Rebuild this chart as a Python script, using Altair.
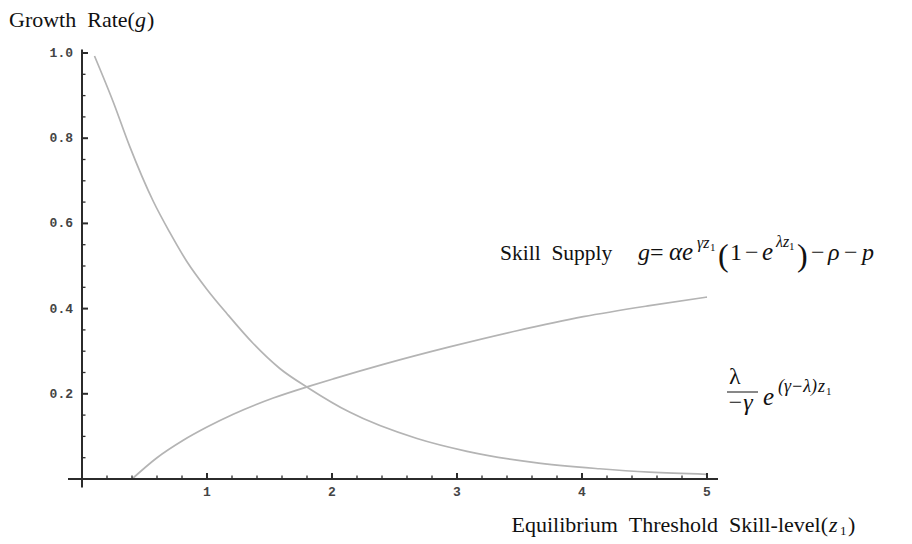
import altair as alt
import pandas as pd

# ---- data ----
supply_x = [0.40, 0.60, 0.81, 1.00, 1.21, 1.53, 1.82, 2.01, 2.41, 2.94, 3.48, 4.01, 4.54, 5.00]
supply_y = [0.000, 0.050, 0.091, 0.122, 0.152, 0.190, 0.218, 0.235, 0.269, 0.310, 0.348, 0.381, 0.407, 0.427]

demand_x = [0.10, 0.25, 0.38, 0.57, 0.70, 0.84, 1.00, 1.16, 1.37, 1.58, 1.82, 2.14, 2.68, 3.08, 3.61, 4.14, 4.54, 5.00]
demand_y = [0.993, 0.885, 0.782, 0.652, 0.580, 0.510, 0.445, 0.388, 0.318, 0.260, 0.212, 0.157, 0.095, 0.065, 0.039, 0.024, 0.016, 0.011]

x_major = [1, 2, 3, 4, 5]
x_labels = ["1", "2", "3", "4", "5"]
x_minor = [0.2, 0.4, 0.6, 0.8, 1.2, 1.4, 1.6, 1.8, 2.2, 2.4, 2.6, 2.8,
           3.2, 3.4, 3.6, 3.8, 4.2, 4.4, 4.6, 4.8]
y_major = [0.2, 0.4, 0.6, 0.8, 1.0]
y_labels = ["0.2", "0.4", "0.6", "0.8", "1.0"]
y_minor = [0.05, 0.10, 0.15, 0.25, 0.30, 0.35, 0.45, 0.50, 0.55,
           0.65, 0.70, 0.75, 0.85, 0.90, 0.95]

# ---- geometry ----
W, H = 890, 530
M = 8  # page margin
xs = alt.Scale(domain=[-0.592, (W - 74) / 125], nice=False, zero=False)
ys = alt.Scale(domain=[-(H - 471) / 426, 1 + 45 / 426], nice=False, zero=False)

AX = "#2b2b2b"
CURVE = "#b4b4b4"
SERIF = "Liberation Serif"

one = pd.DataFrame({"k": [0]})


def X(f):
    return alt.X(f, scale=xs, axis=None)


def Y(f):
    return alt.Y(f, scale=ys, axis=None)


def txt(s, x, y, size=22, style="normal", align="left", color="#111"):
    return alt.Chart(one).mark_text(
        text=s, fontSize=size, fontStyle=style, align=align,
        baseline="alphabetic", font=SERIF, color=color
    ).encode(x=alt.value(x - M), y=alt.value(y - M))


curves = pd.concat([
    pd.DataFrame({"x": supply_x, "y": supply_y, "s": "supply"}),
    pd.DataFrame({"x": demand_x, "y": demand_y, "s": "demand"}),
])

lines = alt.Chart(curves).mark_line(
    color=CURVE, strokeWidth=1.7, interpolate="monotone"
).encode(x=X("x:Q"), y=Y("y:Q"), detail="s:N")

# axes lines
xaxis = alt.Chart(pd.DataFrame({"x": [-0.112], "x2": [5.088], "y": [0.0]})).mark_rule(
    color=AX, strokeWidth=2).encode(x=X("x:Q"), x2="x2:Q", y=Y("y:Q"))
yaxis = alt.Chart(pd.DataFrame({"x": [0.0], "y": [-0.02], "y2": [1.008]})).mark_rule(
    color=AX, strokeWidth=2).encode(x=X("x:Q"), y=Y("y:Q"), y2="y2:Q")

# ticks
xt_major = alt.Chart(pd.DataFrame({"x": x_major, "y": 0.0, "y2": 6 / 426})).mark_rule(
    color=AX, strokeWidth=2).encode(x=X("x:Q"), y=Y("y:Q"), y2="y2:Q")
xt_minor = alt.Chart(pd.DataFrame({"x": x_minor, "y": 0.0, "y2": 3.5 / 426})).mark_rule(
    color=AX, strokeWidth=1.3).encode(x=X("x:Q"), y=Y("y:Q"), y2="y2:Q")
yt_major = alt.Chart(pd.DataFrame({"y": y_major, "x": 0.0, "x2": 6 / 125})).mark_rule(
    color=AX, strokeWidth=2).encode(x=X("x:Q"), x2="x2:Q", y=Y("y:Q"))
yt_minor = alt.Chart(pd.DataFrame({"y": y_minor, "x": 0.0, "x2": 3.5 / 125})).mark_rule(
    color=AX, strokeWidth=1.3).encode(x=X("x:Q"), x2="x2:Q", y=Y("y:Q"))

# tick labels
xl = alt.Chart(pd.DataFrame({"x": x_major, "y": 0.0, "t": x_labels})).mark_text(
    font="Liberation Mono", fontWeight="bold", fontSize=13, color="#444",
    baseline="middle", align="center", dy=13
).encode(x=X("x:Q"), y=Y("y:Q"), text="t:N")
yl = alt.Chart(pd.DataFrame({"y": y_major, "x": 0.0, "t": y_labels})).mark_text(
    font="Liberation Mono", fontWeight="bold", fontSize=13, color="#444",
    baseline="middle", align="right", dx=-9
).encode(x=X("x:Q"), y=Y("y:Q"), text="t:N")

# titles and formulas
texts = [
    txt("Growth\u00a0\u00a0Rate(", 9, 27),
    txt("g", 135, 27, style="italic"),
    txt(")", 147, 27),
    txt("Equilibrium\u00a0\u00a0Threshold\u00a0\u00a0Skill-level(", 828, 532, align="right"),
    txt("z", 829, 532, style="italic"),
    txt("1", 840, 535, size=13),
    txt(")", 848, 532),
    # skill supply formula
    txt("Skill\u00a0\u00a0Supply", 500, 260, size=21.5),
    txt("g", 638, 260, size=24, style="italic"),
    txt("=", 650, 260, size=24),
    txt("\u03b1", 669, 260, size=25, style="italic"),
    txt("e", 682, 260, size=25, style="italic"),
    txt("\u03b3z", 697, 248, size=16, style="italic"),
    txt("1", 710, 251, size=11),
    txt("(", 718, 266, size=32),
    txt("1", 730, 260, size=24),
    txt("\u2212", 745, 260, size=24),
    txt("e", 762, 260, size=25, style="italic"),
    txt("\u03bbz", 776, 247, size=16, style="italic"),
    txt("1", 789, 250, size=11),
    txt(")", 797, 266, size=32),
    txt("\u2212", 811, 260, size=24),
    txt("\u03c1", 828, 260, size=24, style="italic"),
    txt("\u2212", 844, 260, size=24),
    txt("p", 862, 260, size=24, style="italic"),
    # fraction formula
    txt("\u03bb", 729, 384, size=24),
    txt("\u2212\u03b3", 727, 410, size=24, style="italic"),
    txt("e", 763, 405, size=25, style="italic"),
    txt("(\u03b3\u2212\u03bb)", 778, 392, size=18, style="italic"),
    txt("z", 818, 392, size=18, style="italic"),
    txt("1", 826, 395, size=11),
]

bar = alt.Chart(one).mark_rule(color="#111", strokeWidth=1).encode(
    x=alt.value(727 - M), x2=alt.value(758 - M), y=alt.value(392 - M))

chart = alt.layer(
    lines, xaxis, yaxis, xt_major, xt_minor, yt_major, yt_minor, xl, yl, bar, *texts
).properties(
    width=W, height=H, autosize=alt.AutoSizeParams(type="none"), padding=0
).configure_view(stroke=None)

chart.save("out.html", embed_options={"renderer": "svg", "actions": False})
